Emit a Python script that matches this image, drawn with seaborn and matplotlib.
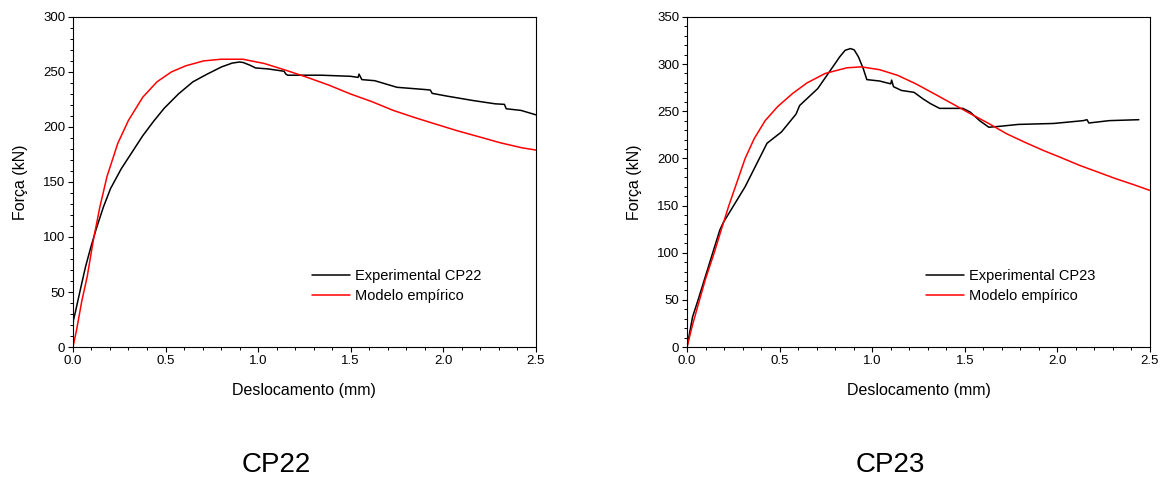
import numpy as np
import pandas as pd
import seaborn as sns
from matplotlib import pyplot as plt
from matplotlib.ticker import MultipleLocator

# CP22 - experimental curve
cp22_exp_x = [0.0, 0.002, 0.0135, 0.039, 0.068, 0.097, 0.126, 0.164, 0.203, 0.261, 0.319,
              0.377, 0.435, 0.493, 0.57, 0.648, 0.725, 0.802, 0.86, 0.90, 0.92, 0.957, 0.986,
              1.054, 1.14, 1.15, 1.16, 1.34, 1.50, 1.54, 1.545, 1.56, 1.63, 1.75, 1.90, 1.93,
              1.94, 2.02, 2.16, 2.28, 2.33, 2.34, 2.42, 2.5]
cp22_exp_y = [0.0, 24.0, 32.0, 51.5, 73.0, 91.0, 107.5, 127.0, 144.0, 162.0, 177.0, 192.0,
              205.0, 217.0, 230.0, 241.0, 248.0, 254.5, 258.0, 259.0, 258.5, 256.0, 253.6,
              252.7, 250.6, 248.0, 247.0, 247.0, 246.0, 245.0, 248.0, 243.0, 242.0, 236.0,
              234.0, 233.5, 230.5, 228.0, 224.0, 221.0, 220.5, 216.5, 215.0, 211.0]

# CP22 - empirical model
cp22_mod_x = [0.0, 0.019, 0.048, 0.077, 0.11, 0.145, 0.184, 0.242, 0.30, 0.377, 0.454, 0.532,
              0.609, 0.706, 0.80, 0.918, 1.034, 1.15, 1.266, 1.382, 1.498, 1.614, 1.73, 1.846,
              1.962, 2.078, 2.194, 2.31, 2.426, 2.5]
cp22_mod_y = [0.0, 15.0, 42.0, 64.0, 97.0, 127.0, 155.0, 185.0, 206.0, 227.0, 241.0, 250.0,
              255.5, 260.0, 261.5, 261.5, 257.6, 251.5, 245.0, 238.0, 230.0, 223.0, 215.0,
              208.5, 202.4, 196.4, 191.0, 185.5, 181.0, 179.0]

# CP23 - experimental curve
cp23_exp_x = [0.0, 0.03, 0.059, 0.12, 0.177, 0.196, 0.314, 0.432, 0.51, 0.589, 0.608, 0.706,
              0.805, 0.824, 0.854, 0.883, 0.903, 0.926, 0.952, 0.971, 1.04, 1.10, 1.105, 1.115,
              1.158, 1.226, 1.275, 1.315, 1.364, 1.49, 1.53, 1.58, 1.63, 1.69, 1.79, 1.98,
              2.14, 2.16, 2.17, 2.28, 2.44]
cp23_exp_y = [0.0, 32.0, 49.5, 88.0, 124.0, 132.0, 170.0, 216.0, 228.0, 247.0, 256.0, 274.0,
              302.0, 307.5, 314.6, 316.4, 315.0, 307.5, 295.0, 283.5, 282.0, 279.0, 283.0,
              276.0, 272.0, 270.0, 263.0, 258.0, 253.0, 253.0, 249.0, 240.0, 233.0, 234.0,
              236.0, 237.0, 240.0, 241.0, 237.5, 240.0, 241.0]

# CP23 - empirical model
cp23_mod_x = [0.0, 0.029, 0.059, 0.098, 0.147, 0.186, 0.226, 0.27, 0.314, 0.363, 0.422, 0.49,
              0.569, 0.648, 0.746, 0.863, 0.942, 1.04, 1.138, 1.236, 1.334, 1.432, 1.53, 1.629,
              1.727, 1.825, 1.923, 2.02, 2.12, 2.217, 2.315, 2.414, 2.5]
cp23_mod_y = [0.0, 23.0, 44.0, 71.0, 100.0, 125.0, 150.0, 175.0, 200.0, 221.0, 240.0, 255.0,
              268.6, 280.0, 290.0, 296.0, 297.0, 294.0, 288.0, 279.0, 268.6, 258.0, 247.4,
              237.0, 226.0, 217.0, 208.5, 200.8, 192.6, 185.6, 178.5, 172.0, 166.0]

sns.set_style("ticks")
plt.rcParams['font.family'] = ['Liberation Sans', 'DejaVu Sans']
plt.rcParams['text.color'] = 'black'
plt.rcParams['axes.labelcolor'] = 'black'

fig = plt.figure(figsize=(11.69, 4.82), dpi=100)

panels = [
    (0.0624, cp22_exp_x, cp22_exp_y, cp22_mod_x, cp22_mod_y, 'Experimental CP22', 300, 'CP22'),
    (0.5877, cp23_exp_x, cp23_exp_y, cp23_mod_x, cp23_mod_y, 'Experimental CP23', 350, 'CP23'),
]

for left, ex, ey, mx, my, lab, ymax, title in panels:
    ax = fig.add_axes([left, 0.280, 0.396, 0.685])
    exp_df = pd.DataFrame({'x': ex, 'y': ey})
    mod_df = pd.DataFrame({'x': mx, 'y': my})
    sns.lineplot(data=exp_df, x='x', y='y', ax=ax, color='black', lw=1.1,
                 sort=False, estimator=None, label=lab)
    sns.lineplot(data=mod_df, x='x', y='y', ax=ax, color='red', lw=1.1,
                 sort=False, estimator=None, label='Modelo empírico')
    ax.set_xlim(0, 2.5)
    ax.set_ylim(0, ymax)
    ax.xaxis.set_major_locator(MultipleLocator(0.5))
    ax.xaxis.set_minor_locator(MultipleLocator(0.1))
    ax.yaxis.set_major_locator(MultipleLocator(50))
    ax.yaxis.set_minor_locator(MultipleLocator(10))
    ax.tick_params(which='major', direction='out', length=3.6, width=0.8, labelsize=9.5,
                   pad=2, colors='black')
    ax.tick_params(which='minor', direction='out', length=2.2, width=0.7, colors='black')
    for s in ax.spines.values():
        s.set_linewidth(0.8)
        s.set_color('black')
    ax.set_xlabel('Deslocamento (mm)', fontsize=11.5, labelpad=12, color='black')
    ax.set_ylabel('Força (kN)', fontsize=11.5, labelpad=11, color='black')
    ax.legend(loc='lower right', bbox_to_anchor=(0.91, 0.093), frameon=False, fontsize=10.5,
              handlelength=2.6, handletextpad=0.35, labelspacing=0.4)
    fig.text(left + 0.396 / 2 - 0.024, 1 - 465 / 482, title, ha='center', va='center',
             fontsize=20, color='black')

fig.savefig('out.png', dpi=100)
